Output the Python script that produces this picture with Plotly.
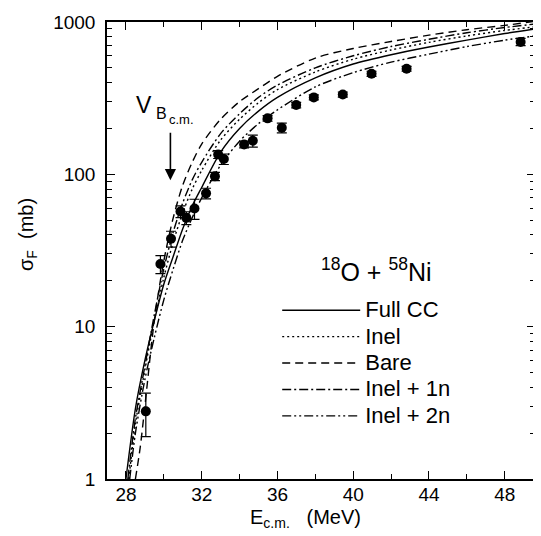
import plotly.graph_objects as go

# ---------------- data ----------------
e_grid = [28.0, 28.5, 29.0, 29.5, 30.0, 30.5, 31.0, 31.5, 32.0, 33.0, 34.0, 35.0,
          36.0, 38.0, 40.0, 42.0, 44.0, 46.0, 48.0, 49.6]

full_cc_e = e_grid
full_cc = [1.0, 2.9, 6.0, 11.0, 19.0, 29.0, 44.0, 62.0, 82.0, 140.0, 200.0, 260.0,
           320.0, 430.0, 530.0, 610.0, 685.0, 760.0, 840.0, 900.0]

inel_e = [28.15] + e_grid[1:]
inel = [1.0, 2.3, 5.2, 11.0, 21.0, 36.0, 56.0, 80.0, 106.0, 168.0, 230.0, 295.0,
        360.0, 470.0, 570.0, 655.0, 735.0, 810.0, 880.0, 930.0]

bare_e = [28.5, 28.75, 29.0, 29.5, 30.0, 30.5, 31.0, 31.5, 32.0, 33.0, 34.0, 35.0,
          36.0, 38.0, 40.0, 42.0, 44.0, 46.0, 48.0, 49.6]
bare = [1.0, 1.6, 3.0, 11.0, 27.0, 52.0, 85.0, 120.0, 158.0, 230.0, 300.0, 365.0,
        440.0, 580.0, 670.0, 745.0, 820.0, 890.0, 950.0, 1010.0]

inel1n_e = [28.1] + e_grid[1:]
inel1n = [1.0, 2.5, 5.5, 12.0, 24.0, 42.0, 65.0, 92.0, 120.0, 185.0, 250.0, 320.0,
          385.0, 500.0, 600.0, 690.0, 770.0, 850.0, 920.0, 970.0]

inel2n_e = [28.2] + e_grid[1:]
inel2n = [1.0, 2.0, 4.5, 8.5, 15.0, 24.0, 37.0, 52.0, 70.0, 115.0, 165.0, 215.0,
          265.0, 375.0, 465.0, 545.0, 615.0, 690.0, 760.0, 810.0]

exp_e = [29.05, 29.82, 30.38, 30.88, 31.19, 31.62, 32.23, 32.70, 32.87, 33.17,
         34.24, 34.70, 35.48, 36.23, 36.99, 37.92, 39.45, 40.97, 42.82, 48.84]
exp_sigma = [2.78, 25.8, 37.8, 57.0, 51.8, 59.6, 75.0, 97.0, 135.0, 126.0,
             157.0, 166.0, 233.0, 202.0, 285.0, 320.0, 334.0, 457.0, 493.0, 740.0]
exp_err = [0.88, 3.5, 4.5, 5.0, 5.0, 9.0, 6.0, 6.0, 8.0, 10.0,
           8.0, 15.0, 10.0, 15.0, 12.0, 12.0, 13.0, 18.0, 18.0, 40.0]

x_ticks = [28, 32, 36, 40, 44, 48]
x_minor = [30, 34, 38, 42, 46]
y_ticks = [1, 10, 100, 1000]
y_minor = [m * d for d in (1, 10, 100) for m in range(2, 10)]

# ---------------- figure ----------------
OFF = 8  # page body margin
W, H = 533, 528
L, R, T, B = 99, 4, 9, 57
PX0, PY0 = OFF + L, OFF + T          # plot origin in window pixels
PW, PH = W - L - R, H - T - B
FONT = "Liberation Sans, Arial, sans-serif"

def xp(px):
    return (px - PX0) / PW

def yp(py):
    return (PY0 + PH - py) / PH

fig = go.Figure()

curves = [
    ("Full CC", full_cc_e, full_cc, "solid"),
    ("Inel", inel_e, inel, "2px,3px"),
    ("Bare", bare_e, bare, "8px,5px"),
    ("Inel + 1n", inel1n_e, inel1n, "9px,3px,2px,3px"),
    ("Inel + 2n", inel2n_e, inel2n, "9px,3px,2px,3px,2px,3px"),
]
for name, xs, ys, dash in curves:
    fig.add_trace(go.Scatter(x=xs, y=ys, mode="lines",
                             name='<span style="font-size:22px">' + name + '</span>',
                             line=dict(color="black", width=1.4, dash=dash,
                                       shape="spline", smoothing=0.8)))

fig.add_trace(go.Scatter(
    x=exp_e, y=exp_sigma, mode="markers", showlegend=False,
    marker=dict(color="black", size=10, symbol="circle"),
    error_y=dict(type="data", array=exp_err, color="black", thickness=1.2, width=5),
))

axis_common = dict(
    showline=True, linecolor="black", linewidth=1.5, mirror="ticks",
    ticks="inside", tickcolor="black", tickwidth=1.3, ticklen=8,
    showgrid=False, zeroline=False, ticklabeloverflow="allow",
    tickfont=dict(family=FONT, size=19, color="black"),
)

fig.update_xaxes(range=[27.0, 49.6], tickvals=x_ticks,
                 minor=dict(tickvals=x_minor, ticks="inside", ticklen=5,
                            tickcolor="black", tickwidth=1.2),
                 ticklabelstandoff=-3, **axis_common)
fig.update_yaxes(type="log", range=[0, 3], tickvals=y_ticks,
                 ticktext=[str(v) for v in y_ticks],
                 minor=dict(tickvals=y_minor, ticks="inside", ticklen=5,
                            tickcolor="black", tickwidth=1.2),
                 ticklabelstandoff=6, **axis_common)

ann = []
# axis titles
ann.append(dict(text="E<sub>c.m.</sub>   (MeV)", x=xp(306), y=yp(519), xref="paper", yref="paper",
                showarrow=False, font=dict(family=FONT, size=20, color="black"),
                xanchor="center", yanchor="middle"))
ann.append(dict(text="σ<sub>F</sub>  (mb)", x=xp(27), y=yp(232), xref="paper", yref="paper",
                showarrow=False, textangle=-90, font=dict(family=FONT, size=20, color="black"),
                xanchor="center", yanchor="middle"))
# reaction label
ann.append(dict(text="<sup>18</sup>O + <sup>58</sup>Ni", x=xp(377), y=yp(268), xref="paper", yref="paper",
                showarrow=False, font=dict(family=FONT, size=25, color="black"),
                xanchor="center", yanchor="middle"))
# barrier label
ann.append(dict(text="V", x=xp(144), y=yp(101), xref="paper", yref="paper",
                showarrow=False, font=dict(family=FONT, size=23, color="black"),
                xanchor="center", yanchor="middle"))
ann.append(dict(text="B", x=xp(162), y=yp(109), xref="paper", yref="paper",
                showarrow=False, font=dict(family=FONT, size=16, color="black"),
                xanchor="center", yanchor="middle"))
ann.append(dict(text="c.m.", x=xp(182), y=yp(116), xref="paper", yref="paper",
                showarrow=False, font=dict(family=FONT, size=13, color="black"),
                xanchor="center", yanchor="middle"))
# arrow
ann.append(dict(text="", x=xp(170.7), y=yp(177), xref="paper", yref="paper",
                showarrow=True, ax=0, ay=-49, arrowhead=2, arrowsize=1.4,
                arrowwidth=1.6, arrowcolor="black"))

fig.update_layout(
    width=W, height=H,
    margin=dict(l=L, r=R, t=T, b=B),
    paper_bgcolor="white", plot_bgcolor="white",
    font=dict(family=FONT, color="black"),
    annotations=ann,
    showlegend=True,
    legend=dict(x=xp(278), y=yp(290), xanchor="left", yanchor="top",
                bgcolor="rgba(0,0,0,0)", borderwidth=0,
                font=dict(family=FONT, size=18, color="black"),
                itemwidth=78, tracegroupgap=0),
)

fig.write_html("out.html")
